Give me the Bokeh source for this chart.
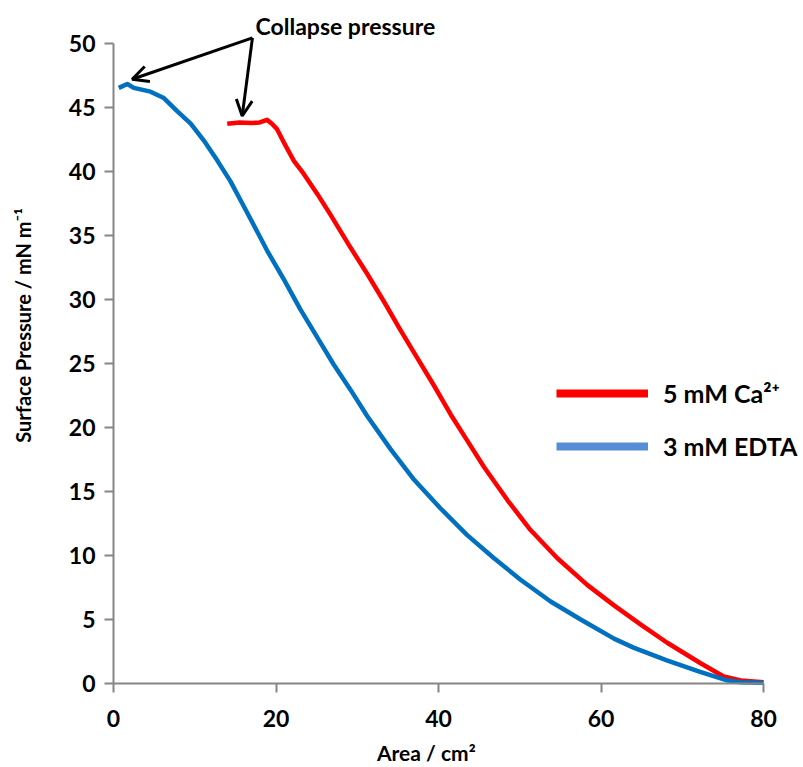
import math
from bokeh.plotting import figure
from bokeh.models import (Label, Arrow, OpenHead, Legend, LegendItem, Range1d, LinearAxis,
                          FixedTicker, Grid)
from bokeh.embed import file_html
from bokeh.resources import INLINE

# ---- data ----
edta_area = [0.65, 1.7, 2.5, 4.55, 6.2, 7.8, 9.5, 11.1, 12.8, 14.4, 16.0, 17.5, 18.9, 21.0,
             23.0, 25.1, 27.1, 29.2, 31.2, 34.1, 37.0, 40.2, 43.5, 46.8, 50.1, 53.8, 57.5,
             61.6, 64.0, 68.1, 72.2, 75.5, 77.2, 80.0]
edta_pressure = [46.5, 46.8, 46.5, 46.2, 45.7, 44.7, 43.7, 42.4, 40.8, 39.2, 37.3, 35.5, 33.8, 31.5,
                 29.2, 27.0, 24.9, 22.9, 20.9, 18.3, 15.9, 13.7, 11.6, 9.8, 8.1, 6.4, 5.0,
                 3.5, 2.8, 1.8, 0.9, 0.25, 0.1, 0.05]

ca_area = [14.0, 15.5, 17.0, 18.0, 18.9, 19.5, 20.1, 21.0, 22.2, 23.4, 25.1, 26.7, 29.0, 31.2,
           33.3, 35.3, 37.4, 39.4, 41.5, 43.5, 45.6, 48.5, 51.3, 54.6, 58.3, 61.6, 64.9, 68.1,
           72.2, 75.1, 77.2, 80.0]
ca_pressure = [43.7, 43.8, 43.75, 43.8, 44.0, 43.7, 43.3, 42.2, 40.8, 39.8, 38.2, 36.6, 34.2, 32.0,
               29.8, 27.6, 25.4, 23.3, 21.0, 19.0, 16.9, 14.3, 12.0, 9.8, 7.7, 6.1, 4.6, 3.2,
               1.6, 0.55, 0.23, 0.1]

x_ticks = [0, 20, 40, 60, 80]
y_ticks = [0, 5, 10, 15, 20, 25, 30, 35, 40, 45, 50]

series_labels = ["5 mM Ca\u00b2\u207a", "3 mM EDTA"]
x_title = "Area / cm\u00b2"
y_title = "Surface Pressure / mN m\u207b\u00b9"
note_text = "Collapse pressure"

FONT = "Lato"
AX = "#868686"

W, H = 800, 766
# plot area: x 0..80 -> px 113..763, y 0..50 -> px 683..42.5 (canvas coords)
xs = 650 / 80.0
ys = 640.5 / 50.0
p = figure(width=W, height=H, output_backend="svg", toolbar_location=None, title=None,
           x_range=Range1d(-113 / xs, 80 + (W - 763) / xs),
           y_range=Range1d(-(H - 683) / ys, 50 + 42.5 / ys),
           x_axis_location=None, y_axis_location=None,
           min_border_left=0, min_border_right=0, min_border_top=0, min_border_bottom=0)
p.outline_line_color = None
p.background_fill_color = "white"
p.border_fill_color = "white"
for r in list(p.center):
    if isinstance(r, Grid):
        r.visible = False

xaxis = LinearAxis(fixed_location=0, bounds=(0, 80), ticker=FixedTicker(ticks=x_ticks))
yaxis = LinearAxis(fixed_location=0, bounds=(0, 50), ticker=FixedTicker(ticks=y_ticks))
for ax in (xaxis, yaxis):
    ax.axis_line_color = AX
    ax.axis_line_width = 2
    ax.major_tick_line_color = AX
    ax.major_tick_line_width = 2
    ax.major_tick_out = 9
    ax.major_tick_in = 0
    ax.minor_tick_line_color = None
    ax.major_label_text_font = FONT
    ax.major_label_text_font_style = "bold"
    ax.major_label_text_font_size = "23px"
    ax.major_label_text_color = "black"
xaxis.major_label_standoff = 17
yaxis.major_label_standoff = 9
p.add_layout(xaxis, "below")
p.add_layout(yaxis, "left")

r_ca = p.line(ca_area, ca_pressure, line_color="#FF0000", line_width=4.5, line_join="round")
r_edta = p.line(edta_area, edta_pressure, line_color="#0070C0", line_width=4.5, line_join="round")

# legend proxies (thicker, lighter blue as in the reference legend)
nan = float("nan")
leg_ca = p.line([nan], [nan], line_color="#FF0000", line_width=8)
leg_edta = p.line([nan], [nan], line_color="#558ED5", line_width=8)
legend = Legend(items=[LegendItem(label=series_labels[0], renderers=[leg_ca]),
                       LegendItem(label=series_labels[1], renderers=[leg_edta])],
                location=(556, H - 446 - 15), orientation="vertical",
                glyph_width=92, glyph_height=30, label_height=30, spacing=23,
                label_standoff=15, padding=0, margin=0,
                border_line_color=None, background_fill_alpha=0,
                label_text_font=FONT, label_text_font_style="bold",
                label_text_font_size="25px", label_text_color="black")
p.add_layout(legend, "center")

# axis titles
p.add_layout(Label(x=38.5, y=-5.35, text=x_title, text_font=FONT, text_font_style="bold",
                   text_font_size="21px", text_align="center", text_baseline="middle",
                   text_color="black"))
p.add_layout(Label(x=-11.08, y=27.95, text=y_title, angle=math.pi / 2, text_font=FONT,
                   text_font_style="bold", text_font_size="20px", text_align="center",
                   text_baseline="middle", text_color="black"))

# annotation
p.add_layout(Label(x=17.48, y=51.29, text=note_text, text_font=FONT, text_font_style="bold",
                   text_font_size="23px", text_align="left", text_baseline="middle",
                   text_color="black"))
for (xe, ye) in [(2.3, 47.17), (15.84, 44.3)]:
    p.add_layout(Arrow(x_start=17.1, y_start=50.4, x_end=xe, y_end=ye,
                       line_color="black", line_width=3,
                       end=OpenHead(size=16, line_color="black", line_width=3)))

open("out.html", "w").write(file_html(p, INLINE))
